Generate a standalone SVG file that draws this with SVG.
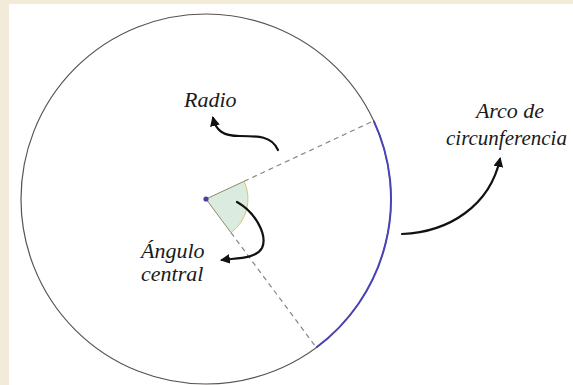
<svg xmlns="http://www.w3.org/2000/svg" width="573" height="385" viewBox="0 0 573 385">
  <defs>
    <style>
      text { font-family: 'Liberation Serif', 'DejaVu Serif', 'Times New Roman', serif; font-style: italic; font-size: 22px; fill: #1a1a1a; }
      .dash { stroke: #8a8484; stroke-width: 1.2; stroke-dasharray: 5 4; fill: none; }
      .arrow { stroke: #111; stroke-width: 2.2; fill: none; stroke-linecap: round; marker-end: url(#ah); }
    </style>
    <marker id="ah" viewBox="0 0 10 10" refX="8" refY="5" markerWidth="4.5" markerHeight="4.5" orient="auto" markerUnits="strokeWidth">
      <path d="M0,0 L10,5 L0,10 Z" fill="#111"/>
    </marker>
  </defs>
  <rect x="0" y="0" width="573" height="385" fill="#f3ebda"/>
  <rect x="9" y="4" width="564" height="381" fill="#ffffff"/>

  <g id="circle">
    <circle cx="206" cy="199" r="185" fill="none" stroke="#5a5252" stroke-width="1.2"/>
  </g>
  <g id="arc">
    <path d="M373.7,120.8 A185,185 0 0 1 316.3,347.5" fill="none" stroke="#4a43b6" stroke-width="2"/>
  </g>
  <g id="angle">
    <path d="M206,199 L244.1,181.3 A42,42 0 0 1 231,232.7 Z" fill="#dcebdf" stroke="none"/>
    <path d="M231,232.7 L206,199 L244.1,181.3" fill="none" stroke="#8a8a70" stroke-width="1"/>
    <path d="M244.1,181.3 A42,42 0 0 1 231,232.7" fill="none" stroke="#d0c878" stroke-width="1"/>
    <circle cx="206" cy="199" r="2.6" fill="#4a3f9a"/>
  </g>
  <g id="connectors">
    <line class="dash" x1="244.1" y1="181.3" x2="373.7" y2="120.8"/>
    <line class="dash" x1="231" y1="232.7" x2="316.3" y2="347.5"/>
    <path class="arrow" d="M278,150 C272,136 258,136 240,136 C222,136 216,130 213,118"/>
    <path class="arrow" d="M237,202 C255,212 268,235 262,248 C256,259 236,258 222,260"/>
    <path class="arrow" d="M402,234 C450,232 490,205 500,159"/>
  </g>
  <g id="label-radio">
    <text x="184" y="107">Radio</text>
  </g>
  <g id="label-arco">
    <text x="510" y="118" text-anchor="middle">Arco de</text>
    <text x="446" y="145" style="font-size:21px">circunferencia</text>
  </g>
  <g id="label-angulo">
    <text x="141" y="258">Ángulo</text>
    <text x="141" y="281">central</text>
  </g>
</svg>
